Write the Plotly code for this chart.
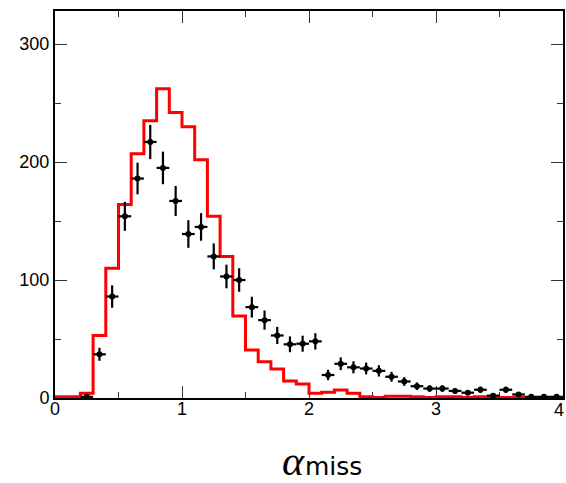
import plotly.graph_objects as go

# bin edges 0..4, width 0.1
bin_edges = [round(i * 0.1, 1) for i in range(41)]
bin_centers = [round(i * 0.1 + 0.05, 2) for i in range(40)]

# red histogram (simulation)
mc_counts = [1, 1, 4, 53, 110, 164, 207, 235, 262, 242,
             230, 202, 154, 120, 69.5, 40.7, 30.8, 24.6, 14.4, 11.9,
             4, 4.8, 6.8, 4, 1, 0.5, 1.5, 1.5, 1, 0.5,
             1, 1, 0.5, 1, 0.5, 0.5, 0.5, 0.5, 0.5, 0.5]

# black data points
data_counts = [None, None, 1, 37, 86, 154, 186, 217, 195, 167,
               139, 145, 120, 103, 100, 77, 66, 53, 45.5, 46,
               48, 19.5, 29, 26, 25, 23, 18, 14, 10, 8,
               8, 6, 4.5, 7, 2, 7, 3, 1, 1, 1]
data_errors = [0, 0, 1, 5.5, 9.5, 12.3, 13.4, 14.5, 13.8, 12.7,
               11.7, 11.7, 11, 10, 10, 8.8, 8.1, 7.3, 6.7, 6.8,
               6.9, 4.4, 5.4, 5.1, 5, 4.8, 4.2, 3.7, 3.2, 2.8,
               2.8, 2.4, 2.1, 2.7, 1.4, 2.6, 1.7, 1, 1, 1]

x_ticks = [0, 1, 2, 3, 4]
x_tick_labels = ["0", "1", "2", "3", "4"]
y_ticks = [0, 100, 200, 300]

fig = go.Figure()

fig.add_trace(go.Scatter(
    x=bin_edges,
    y=mc_counts + [mc_counts[-1]],
    mode="lines",
    line=dict(color="#ff0000", width=3, shape="hv"),
    showlegend=False,
    hoverinfo="skip",
))

fig.add_trace(go.Scatter(
    x=bin_centers,
    y=data_counts,
    mode="markers",
    marker=dict(color="black", size=6),
    error_y=dict(type="data", array=data_errors, color="black", thickness=2.2, width=0),
    error_x=dict(type="constant", value=0.05, color="black", thickness=2.2, width=0),
    showlegend=False,
))

axis_font = dict(family="Liberation Sans, Arial, sans-serif", size=18, color="black")

# last x label is placed as an annotation so it stays inside the page edge
fig.update_xaxes(
    range=[0, 4],
    tickvals=x_ticks,
    ticktext=x_tick_labels[:-1] + [""],
    ticks="inside", ticklen=12, tickwidth=1.2, tickcolor="#333",
    minor=dict(dtick=0.5, ticks="inside", ticklen=6, tickwidth=1.2, tickcolor="#333"),
    showline=True, linewidth=2, linecolor="black", mirror="allticks",
    showgrid=False, zeroline=False,
    tickfont=axis_font,
    ticklabeloverflow="allow",
    ticklabelstandoff=-7,
    automargin=False,
    layer="below traces",
)
fig.update_yaxes(
    range=[0, 328],
    tickvals=y_ticks,
    ticktext=[str(v) for v in y_ticks],
    ticks="inside", ticklen=12, tickwidth=1.2, tickcolor="#333",
    minor=dict(dtick=50, ticks="inside", ticklen=6, tickwidth=1.2, tickcolor="#333"),
    showline=True, linewidth=2, linecolor="black", mirror="allticks",
    showgrid=False, zeroline=False,
    tickfont=axis_font,
    ticklabeloverflow="allow",
    automargin=False,
    layer="below traces",
)

fig.add_annotation(
    text=x_tick_labels[-1], xref="x", yref="paper",
    x=x_ticks[-1], y=-0.031, xanchor="right", yanchor="middle", xshift=3,
    showarrow=False, font=axis_font,
)

fig.add_annotation(
    text="<i>α</i>", xref="x", yref="paper",
    x=1.88, y=-0.163, xanchor="center", yanchor="middle",
    showarrow=False,
    font=dict(family="Liberation Serif, Times New Roman, serif", size=42, color="black"),
)
fig.add_annotation(
    text="miss", xref="x", yref="paper",
    x=2.19, y=-0.178, xanchor="center", yanchor="middle",
    showarrow=False,
    font=dict(family="DejaVu Sans, sans-serif", size=25, color="black"),
)

fig.update_layout(
    width=566, height=483,
    margin=dict(l=55, r=3, t=11, b=85, pad=0),
    paper_bgcolor="white", plot_bgcolor="white",
)

fig.write_html(
    "out.html",
    config={"displayModeBar": False},
    post_script="document.body.style.margin='0';document.body.style.overflow='hidden';",
)
